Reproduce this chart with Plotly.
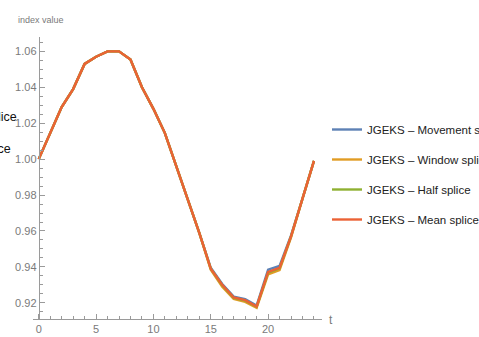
import plotly.graph_objects as go

t = list(range(25))
movement = [1.000, 1.014, 1.029, 1.039, 1.053, 1.057, 1.060, 1.060, 1.0555, 1.040, 1.028, 1.0145,
            0.996, 0.978, 0.959, 0.9395, 0.9305, 0.9235, 0.922, 0.9185, 0.9385, 0.9405, 0.9575, 0.978, 0.999]
window = [1.000, 1.014, 1.029, 1.039, 1.053, 1.057, 1.060, 1.060, 1.0555, 1.040, 1.028, 1.0145,
          0.996, 0.978, 0.959, 0.9385, 0.929, 0.9222, 0.9205, 0.9172, 0.9358, 0.9382, 0.9565, 0.978, 0.999]
half = [1.000, 1.014, 1.029, 1.039, 1.053, 1.057, 1.060, 1.060, 1.0555, 1.040, 1.028, 1.0145,
        0.996, 0.978, 0.959, 0.939, 0.9298, 0.9228, 0.9212, 0.9178, 0.9368, 0.9392, 0.957, 0.978, 0.999]
mean = [1.000, 1.014, 1.029, 1.039, 1.053, 1.057, 1.060, 1.060, 1.0555, 1.040, 1.028, 1.0145,
        0.996, 0.978, 0.959, 0.939, 0.930, 0.923, 0.9215, 0.918, 0.9372, 0.9395, 0.957, 0.978, 0.999]

names = ["JGEKS – Movement splice", "JGEKS – Window splice", "JGEKS – Half splice", "JGEKS – Mean splice"]
colors = ["#5E81B5", "#E19C24", "#8FB032", "#EB6235"]
series = [movement, window, half, mean]

y_ticks = [0.92, 0.94, 0.96, 0.98, 1.00, 1.02, 1.04, 1.06]
y_ticklabels = ["0.92", "0.94", "0.96", "0.98", "1.00", "1.02", "1.04", "1.06"]
x_ticks = [0, 5, 10, 15, 20]

FONT = "Liberation Sans, Arial, sans-serif"
AX = "#9a9a9a"
LBL = "#7a7a7a"

fig = go.Figure()
for n, c, s in zip(names, colors, series):
    fig.add_trace(go.Scatter(x=t, y=s, mode="lines", name=n, legendgroup=n,
                             line=dict(color=c, width=2.4)))

W, H = 479, 337
L, R, T, B = 33, 157, 37, 18
pw, ph = W - L - R, H - T - B

def px_x(X):
    return (X - L) / pw

def px_y(Y):
    return (H - B - Y) / ph

fig.update_layout(
    width=W, height=H,
    margin=dict(l=L, r=R, t=T, b=B, pad=0, autoexpand=False),
    paper_bgcolor="white", plot_bgcolor="white",
    font=dict(family=FONT, size=11, color=LBL),
    showlegend=True,
    legend=dict(x=px_x(327), y=px_y(115), xanchor="left", yanchor="top",
                font=dict(family=FONT, size=11.5, color="#222"),
                traceorder="grouped", tracegroupgap=11, bgcolor="rgba(0,0,0,0)",
                borderwidth=0, itemwidth=30),
    xaxis=dict(range=[-0.5, 24.7], showgrid=False, zeroline=False,
               showline=True, linecolor=AX, linewidth=1,
               tickmode="array", tickvals=x_ticks, ticks="inside", ticklen=5,
               tickcolor=AX, tickfont=dict(family=FONT, size=11, color=LBL),
               minor=dict(dtick=1, ticks="inside", ticklen=3, tickcolor=AX, showgrid=False)),
    yaxis=dict(range=[0.911, 1.068], showgrid=False, zeroline=False,
               anchor="free", position=0.5 / 25.2,
               showline=True, linecolor=AX, linewidth=1,
               tickmode="array", tickvals=y_ticks, ticktext=y_ticklabels,
               ticks="inside", ticklen=5, tickcolor=AX,
               tickfont=dict(family=FONT, size=11, color=LBL),
               minor=dict(dtick=0.005, tick0=0.92, ticks="inside", ticklen=3, tickcolor=AX, showgrid=False)),
)

fig.add_annotation(text="index value", xref="paper", yref="paper", x=px_x(16), y=px_y(20),
                   xanchor="left", yanchor="middle", showarrow=False,
                   font=dict(family=FONT, size=9, color=LBL))
fig.add_annotation(text="t", xref="paper", yref="paper", x=px_x(327), y=px_y(320),
                   xanchor="left", yanchor="middle", showarrow=False,
                   font=dict(family=FONT, size=12, color=LBL))
fig.add_annotation(text="JGEKS – Movement splice", xref="paper", yref="paper", x=px_x(19), y=px_y(117),
                   xanchor="right", yanchor="middle", showarrow=False,
                   font=dict(family=FONT, size=12.5, color="#111"))
fig.add_annotation(text="JGEKS – Window splice", xref="paper", yref="paper", x=px_x(13), y=px_y(149),
                   xanchor="right", yanchor="middle", showarrow=False,
                   font=dict(family=FONT, size=12.5, color="#111"))

fig.write_html("out.html")
